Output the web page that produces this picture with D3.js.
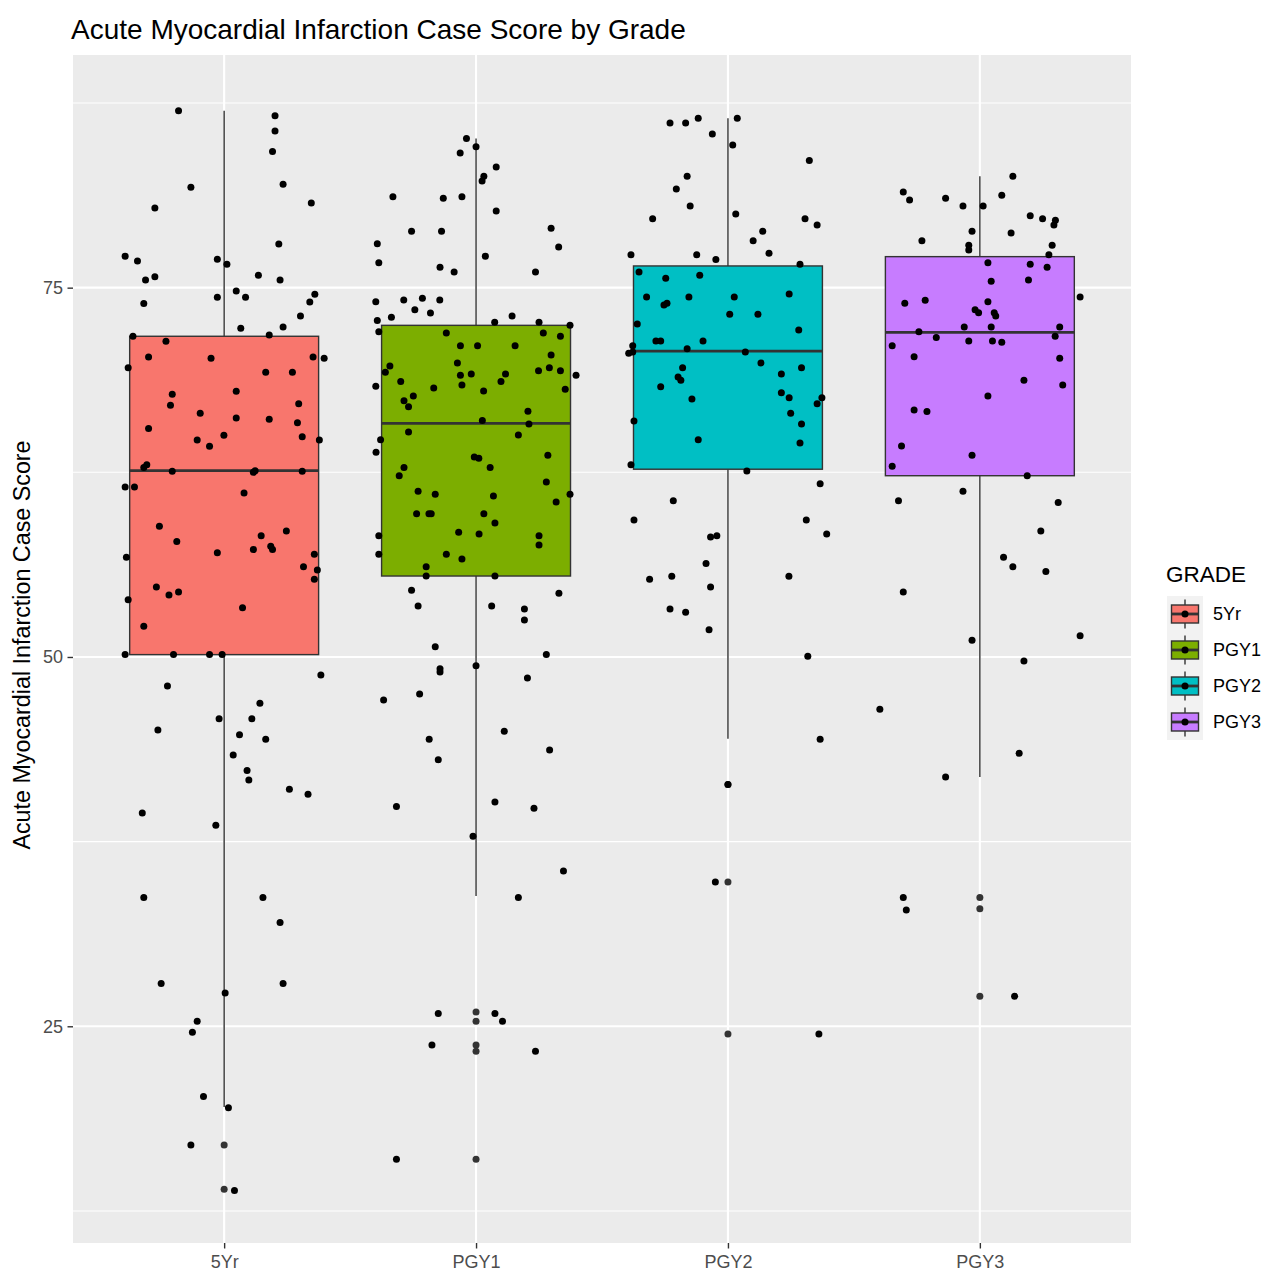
<!DOCTYPE html>
<meta charset="utf-8">
<script src="https://d3js.org/d3.v7.min.js"></script>
<style>
  body { margin: 0; background: #fff; }
  text { font-family: "Liberation Sans", Arial, sans-serif; }
</style>
<div id="chart"></div>
<script>
// categories and colours
const grades = ["5Yr", "PGY1", "PGY2", "PGY3"];
const fills = ["#F8766D", "#7CAE00", "#00BFC4", "#C77CFF"];

// box statistics
const whiskerLow = [19.54, 33.82, 44.47, 41.88];
const q1 = [50.16, 55.48, 62.71, 62.27];
const median = [62.61, 65.82, 70.71, 71.98];
const q3 = [71.71, 72.45, 76.47, 77.10];
const whiskerHigh = [86.98, 85.09, 86.47, 82.54];

// outliers drawn by the boxplot (at the category centre)
const outliers = [
  [16.97, 13.97],
  [25.97, 25.34, 23.74, 23.31, 16.00],
  [41.36, 34.77, 24.48],
  [33.71, 32.96, 27.03]
];

// jittered points: [horizontal jitter in category widths, score]
const points5Yr = [
  [-0.181,86.98],[0.202,86.64],[0.202,85.61],[0.192,84.21],[-0.132,81.80],[0.234,82.00],[-0.275,80.39],[0.346,80.73],[0.217,77.96],[-0.393,77.13],
  [-0.344,76.81],[-0.027,76.92],[0.011,76.58],[-0.312,75.52],[-0.275,75.74],[0.136,75.84],[0.222,75.52],[0.048,74.78],[0.085,74.35],[-0.027,74.35],
  [-0.319,73.92],[0.360,74.55],[0.340,74.03],[0.303,73.08],[0.234,72.34],[0.066,72.25],[0.179,71.80],[-0.362,71.71],[-0.231,71.37],[-0.300,70.31],
  [-0.052,70.22],[0.353,70.31],[0.397,70.22],[-0.381,69.58],[0.165,69.27],[0.271,69.27],[-0.206,67.78],[0.048,67.99],[-0.213,67.04],[0.296,67.15],
  [-0.095,66.50],[0.048,66.18],[0.179,66.09],[0.291,65.86],[-0.300,65.46],[-0.001,65.01],[0.310,64.91],[0.378,64.69],[-0.107,64.69],[-0.058,64.26],
  [-0.319,62.82],[-0.307,63.02],[-0.206,62.57],[0.116,62.50],[0.123,62.61],[0.310,62.57],[-0.393,61.51],[-0.356,61.51],[0.079,61.10],
  [-0.257,58.85],[-0.188,57.81],[0.247,58.53],[0.147,58.21],[0.185,57.50],[0.192,57.27],[0.116,57.27],[-0.027,57.06],[-0.388,56.75],[0.358,56.95],
  [0.315,56.11],[0.370,55.89],[0.358,55.26],[-0.269,54.74],[-0.219,54.20],[-0.181,54.40],[-0.381,53.88],[0.073,53.34],[-0.319,52.08],
  [-0.393,50.16],[-0.201,50.16],[-0.058,50.16],[-0.008,50.16],[0.384,48.78],[-0.225,48.04],[0.142,46.87],[-0.020,45.81],[0.110,45.81],[-0.263,45.06],
  [0.061,44.74],[0.165,44.43],[0.036,43.37],[0.091,42.31],[0.098,41.68],[0.259,41.05],[0.333,40.71],[-0.325,39.44],[-0.033,38.61],
  [-0.319,33.71],[0.154,33.71],[0.222,32.02],[-0.250,27.89],[0.234,27.89],[0.004,27.26],[-0.107,25.34],[-0.126,24.60],[-0.082,20.24],[0.017,19.49],
  [-0.132,16.97],[0.041,13.88]
];
const pointsPGY1 = [
  [-0.038,85.09],[0.000,84.54],[-0.063,84.12],[0.080,83.17],[0.031,82.54],[0.024,82.22],[-0.330,81.16],[-0.130,81.05],[-0.056,81.16],[0.080,80.19],
  [-0.256,78.82],[-0.137,78.82],[0.298,79.02],[-0.392,77.98],[0.328,77.75],[-0.386,76.69],[0.037,77.13],[-0.143,76.38],[-0.087,76.06],[0.236,76.06],
  [-0.398,74.05],[-0.287,74.17],[-0.213,74.28],[-0.144,74.17],[-0.243,73.51],[-0.181,73.29],[-0.392,72.77],[-0.336,73.00],[-0.386,72.02],[0.074,72.66],
  [0.143,73.08],[0.250,72.66],[0.373,72.45],[-0.118,71.93],[0.267,71.93],[0.335,71.71],[-0.062,71.07],[0.006,71.07],[0.155,71.07],[0.298,70.44],
  [-0.074,69.90],[-0.342,69.70],[-0.360,69.27],[-0.062,69.07],[-0.019,69.16],[0.117,69.16],[0.248,69.38],[0.291,69.58],[0.335,69.38],[0.397,69.07],
  [-0.299,68.64],[-0.398,68.33],[-0.056,68.41],[0.099,68.64],[-0.168,68.21],[0.030,68.01],[0.354,68.12],[-0.249,67.67],[-0.286,67.35],[-0.268,66.94],
  [0.206,66.63],[0.025,66.00],[0.210,65.77],[-0.268,65.23],[0.168,65.03],[-0.379,64.71],[-0.397,63.86],[-0.007,63.54],[0.011,63.45],[0.056,62.82],
  [0.285,63.66],[-0.286,62.82],[-0.305,62.27],[0.279,61.85],[-0.230,61.22],[-0.162,61.02],[0.069,60.90],[0.373,61.02],[0.318,60.49],
  [-0.236,59.70],[-0.187,59.70],[-0.178,59.70],[0.031,59.70],[0.075,59.07],[-0.386,58.21],[-0.069,58.44],[0.012,58.33],[0.250,58.21],[0.250,57.58],
  [-0.386,56.95],[-0.118,56.95],[-0.056,56.64],[-0.198,56.11],[-0.198,55.48],[0.075,55.48],[-0.256,54.52],[0.329,54.31],[-0.230,53.45],[0.062,53.45],
  [0.192,53.25],[0.192,52.51],[-0.162,50.70],[0.279,50.16],[0.000,49.41],[-0.143,49.21],[-0.143,48.99],[0.204,48.58],[-0.224,47.50],[-0.367,47.09],
  [0.112,44.97],[-0.186,44.43],[0.292,43.71],[-0.150,43.05],[-0.316,39.87],[0.075,40.19],[0.230,39.76],[-0.012,37.87],[0.347,35.52],[0.168,33.71],
  [-0.150,25.86],[0.075,25.86],[0.105,25.34],[-0.175,23.74],[0.236,23.31],[-0.316,16.00]
];
const pointsPGY2 = [
  [-0.230,86.15],[-0.168,86.15],[-0.118,86.47],[0.037,86.47],[-0.062,85.40],[0.019,84.66],[0.323,83.60],[-0.162,82.54],[-0.205,81.68],[-0.150,80.53],
  [-0.299,79.67],[0.031,79.99],[0.306,79.67],[0.354,79.24],[0.138,78.82],[0.100,78.18],[0.163,77.33],[-0.385,77.23],[-0.124,77.23],[-0.048,76.90],
  [0.286,76.58],[-0.353,76.06],[-0.247,75.64],[-0.112,75.84],[-0.323,74.37],[-0.155,74.37],[0.025,74.37],[0.243,74.57],[-0.254,73.83],[-0.242,73.94],
  [0.007,73.20],[0.119,73.20],[-0.360,72.54],[0.281,72.14],[-0.286,71.39],[-0.267,71.39],[-0.099,71.39],[-0.378,71.07],[-0.162,70.87],[-0.394,70.56],
  [-0.378,70.65],[0.069,70.65],[0.131,69.90],[0.212,69.16],[0.292,69.58],[-0.180,69.58],[-0.198,68.96],[-0.187,68.73],[-0.267,68.30],[0.212,67.89],
  [0.243,67.55],[0.354,67.15],[0.373,67.55],[-0.143,67.47],[0.249,66.50],[-0.373,65.98],[0.292,65.77],[-0.118,64.71],[0.286,64.49],[-0.385,63.02],
  [0.075,62.59],[0.366,61.73],[-0.217,60.58],[-0.373,59.28],[0.311,59.28],[0.392,58.33],[-0.069,58.12],[-0.044,58.21],[-0.087,56.32],[-0.311,55.26],
  [-0.223,55.46],[0.242,55.46],[-0.069,54.74],[-0.230,53.25],[-0.168,53.03],[-0.075,51.85],[0.317,50.05],[0.366,44.43],[0.000,41.36],[-0.050,34.77],
  [0.361,24.48]
];
const pointsPGY3 = [
  [0.131,82.54],[-0.304,81.48],[-0.279,80.94],[-0.136,81.05],[0.087,81.25],[-0.067,80.53],[0.013,80.53],[0.200,79.87],[0.249,79.67],[0.300,79.56],
  [0.294,79.24],[-0.031,78.82],[0.124,78.70],[-0.230,78.18],[-0.044,77.87],[-0.044,77.55],[0.287,77.87],[0.274,77.23],[0.032,76.69],[0.200,76.58],
  [0.267,76.38],[0.045,75.43],[0.193,75.52],[0.398,74.37],[-0.298,73.94],[-0.217,74.15],[0.032,74.05],[-0.019,73.51],[-0.005,73.31],[0.057,73.31],
  [0.063,73.08],[-0.062,72.34],[0.045,72.34],[0.317,72.34],[-0.242,72.02],[-0.173,71.62],[0.299,71.71],[-0.348,71.07],[-0.044,71.39],[0.050,71.39],
  [0.087,71.30],[-0.261,70.33],[0.317,70.22],[0.175,68.73],[0.329,68.41],[0.032,67.67],[-0.261,66.72],[-0.210,66.61],[-0.311,64.28],[-0.031,63.66],
  [-0.348,62.91],[0.188,62.27],[-0.067,61.22],[-0.323,60.58],[0.311,60.45],[0.242,58.53],[0.094,56.75],[0.131,56.11],[0.262,55.78],[-0.304,54.40],
  [-0.031,51.13],[0.398,51.44],[0.175,49.73],[-0.397,46.46],[0.156,43.48],[-0.136,41.88],[-0.304,33.71],[-0.292,32.88],[0.138,27.03]
];
const jitterPoints = [points5Yr, pointsPGY1, pointsPGY2, pointsPGY3];

const yLimits = [10.33, 90.75];
const yMajor = [25, 50, 75];
const yMinor = [12.5, 37.5, 62.5, 87.5];

const title = "Acute Myocardial Infarction Case Score by Grade";
const yTitle = "Acute Myocardial Infarction Case Score";
const legendTitle = "GRADE";

// layout
const W = 1263, H = 1273;
const margin = {top: 55, right: 132, bottom: 30, left: 73};
const width = W - margin.left - margin.right,
      height = H - margin.top - margin.bottom;

const svg = d3.select("#chart").append("svg")
    .attr("width", W).attr("height", H);

const g = svg.append("g")
    .attr("transform", `translate(${margin.left},${margin.top})`);

// scales
const x = d3.scalePoint().domain(grades).range([0, width]).padding(0.6);
const step = x.step();
const y = d3.scaleLinear().domain(yLimits).range([height, 0]);

// panel background and grid
g.append("rect").attr("width", width).attr("height", height).attr("fill", "#EBEBEB");

g.selectAll(".minor").data(yMinor).join("line")
    .attr("x1", 0).attr("x2", width)
    .attr("y1", d => y(d)).attr("y2", d => y(d))
    .attr("stroke", "#fff").attr("stroke-width", 1.1);

g.selectAll(".majorY").data(yMajor).join("line")
    .attr("x1", 0).attr("x2", width)
    .attr("y1", d => y(d)).attr("y2", d => y(d))
    .attr("stroke", "#fff").attr("stroke-width", 2.1);

g.selectAll(".majorX").data(grades).join("line")
    .attr("x1", d => x(d)).attr("x2", d => x(d))
    .attr("y1", 0).attr("y2", height)
    .attr("stroke", "#fff").attr("stroke-width", 2.1);

// boxplots
const boxW = step * 0.75;
const boxes = g.append("g").selectAll("g").data(grades).join("g");

boxes.append("line")
    .attr("x1", d => x(d)).attr("x2", d => x(d))
    .attr("y1", (d, i) => y(whiskerHigh[i])).attr("y2", (d, i) => y(q3[i]))
    .attr("stroke", "#333").attr("stroke-width", 1.4);
boxes.append("line")
    .attr("x1", d => x(d)).attr("x2", d => x(d))
    .attr("y1", (d, i) => y(q1[i])).attr("y2", (d, i) => y(whiskerLow[i]))
    .attr("stroke", "#333").attr("stroke-width", 1.4);
boxes.append("rect")
    .attr("x", d => x(d) - boxW / 2).attr("width", boxW)
    .attr("y", (d, i) => y(q3[i])).attr("height", (d, i) => y(q1[i]) - y(q3[i]))
    .attr("fill", (d, i) => fills[i])
    .attr("stroke", "#333").attr("stroke-width", 1.4);
boxes.append("line")
    .attr("x1", d => x(d) - boxW / 2).attr("x2", d => x(d) + boxW / 2)
    .attr("y1", (d, i) => y(median[i])).attr("y2", (d, i) => y(median[i]))
    .attr("stroke", "#333").attr("stroke-width", 2.8);

// boxplot outliers
boxes.selectAll("circle").data((d, i) => outliers[i].map(v => [d, v])).join("circle")
    .attr("cx", d => x(d[0])).attr("cy", d => y(d[1]))
    .attr("r", 3.5).attr("fill", "#333");

// jitter points
const pts = grades.flatMap((gr, i) => jitterPoints[i].map(p => ({grade: gr, dx: p[0], v: p[1]})));
g.append("g").selectAll("circle").data(pts).join("circle")
    .attr("cx", d => x(d.grade) + d.dx * step)
    .attr("cy", d => y(d.v))
    .attr("r", 3.5).attr("fill", "#000");

// axes
const yAxis = g.append("g")
    .call(d3.axisLeft(y).tickValues(yMajor).tickSize(5.5).tickPadding(4.5));
const xAxis = g.append("g").attr("transform", `translate(0,${height})`)
    .call(d3.axisBottom(x).tickSize(5.5).tickPadding(7));
[yAxis, xAxis].forEach(a => {
  a.select(".domain").remove();
  a.selectAll(".tick line").attr("stroke", "#333").attr("stroke-width", 1.4);
  a.selectAll(".tick text").attr("fill", "#4D4D4D")
    .style("font-size", "18px").style("font-family", "Liberation Sans, Arial, sans-serif");
});

// titles
svg.append("text").attr("x", 71).attr("y", 39)
    .style("font-size", "28px").attr("fill", "#000").text(title);

svg.append("text")
    .attr("transform", `translate(30,${margin.top + height / 2 - 4}) rotate(-90)`)
    .attr("text-anchor", "middle")
    .style("font-size", "23.3px").attr("fill", "#000").text(yTitle);

// legend
const key = 36;
const legend = svg.append("g").attr("transform", "translate(1167,596)");
legend.append("text").attr("x", -1).attr("y", -14)
    .style("font-size", "22.5px").attr("fill", "#000").text(legendTitle);

const items = legend.selectAll(".item").data(grades).join("g")
    .attr("transform", (d, i) => `translate(0,${i * key})`);
items.append("rect").attr("width", key).attr("height", key).attr("fill", "#F2F2F2");
items.append("line").attr("x1", key / 2).attr("x2", key / 2)
    .attr("y1", key * 0.1).attr("y2", key * 0.9)
    .attr("stroke", "#333").attr("stroke-width", 1.4);
items.append("rect")
    .attr("x", key * 0.125).attr("width", key * 0.75)
    .attr("y", key * 0.25).attr("height", key * 0.5)
    .attr("fill", (d, i) => fills[i])
    .attr("stroke", "#333").attr("stroke-width", 1.4);
items.append("line").attr("x1", key * 0.125).attr("x2", key * 0.875)
    .attr("y1", key / 2).attr("y2", key / 2)
    .attr("stroke", "#333").attr("stroke-width", 2.8);
items.append("circle").attr("cx", key / 2).attr("cy", key / 2)
    .attr("r", 3.5).attr("fill", "#000");
items.append("text").attr("x", key + 10).attr("y", key / 2)
    .attr("dy", "0.35em")
    .style("font-size", "18px").attr("fill", "#000").text(d => d);
</script>
